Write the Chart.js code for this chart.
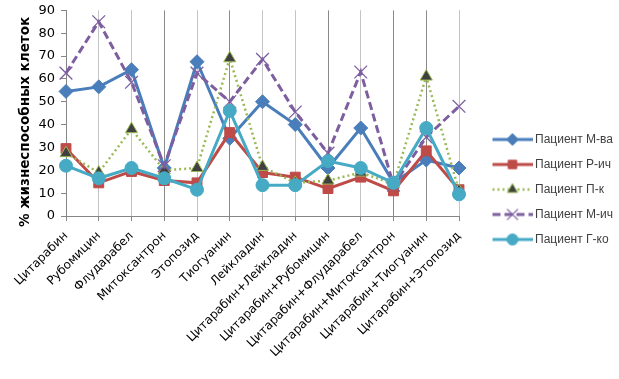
<!DOCTYPE html>
<html><head><meta charset="utf-8">
<script src="https://cdn.jsdelivr.net/npm/chart.js@4/dist/chart.umd.min.js"></script>
<style>html,body{margin:0;padding:0;background:#fff}#w{width:619px;height:379px}</style>
</head><body><div id="w"><canvas id="c"></canvas></div>
<script>
const categories = ["Цитарабин","Рубомицин","Флударабел","Митоксантрон","Этопозид","Тиогуанин","Лейкладин","Цитарабин+Лейкладин","Цитарабин+Рубомицин","Цитарабин+Флударабел","Цитарабин+Митоксантрон","Цитарабин+Тиогуанин","Цитарабин+Этопозид"];
const seriesNames = ["Пациент М-ва","Пациент Р-ич","Пациент П-к","Пациент М-ич","Пациент Г-ко"];
const pMva = [54.5,56.5,64,21,67.5,34,50,40,21,38.5,14.5,24.5,21];
const pRich = [29.5,14.5,19.5,15.5,14.5,36.5,19,17,12,17,11,28.5,11.5];
const pPk = [27.5,19,38,20,21,69,21.5,14.5,15.5,19,14,61,11];
const pMich = [62.5,85,58.5,22,62.5,50,68.5,45.5,27.5,63,13.5,34.5,48];
const pGko = [22,16.5,21,16.5,11.5,46,13.5,13.5,24,21,14.5,38.5,9.5];
const yTicks = [0,10,20,30,40,50,60,70,80,90];
const yTitle = '% жизнеспособных клеток';

const styles = [
 {color:'#4A7EBB', pt:'rectRot', r:7, fill:'#4A7EBB', bc:'#4A7EBB', dash:[], w:3, order:4, bw:1},
 {color:'#BE4B48', pt:'rect', r:7, fill:'#BE4B48', bc:'#BE4B48', dash:[], w:3, order:3, bw:1},
 {color:'#98B954', pt:'triangle', r:7, fill:'#404040', bc:'#98B954', dash:[2,3], w:2.5, order:2, bw:1},
 {color:'#7D5FA0', pt:'crossRot', r:9, fill:'#7D5FA0', bc:'#7D5FA0', dash:[8,4], w:3, order:1, bw:1.3},
 {color:'#46AAC5', pt:'circle', r:6.5, fill:'#46AAC5', bc:'#46AAC5', dash:[], w:3, order:0, bw:1}
];
const values = [pMva,pRich,pPk,pMich,pGko];
const darkGrid = [3,5,8,10,11];

function legendIcon(s){
  const cv = document.createElement('canvas'); cv.width=64; cv.height=16;
  const g = cv.getContext('2d');
  g.strokeStyle=s.color; g.lineWidth=s.w; g.setLineDash(s.dash);
  g.beginPath(); g.moveTo(24,8); g.lineTo(64,8); g.stroke(); g.setLineDash([]);
  g.fillStyle=s.fill; g.strokeStyle=s.bc; g.lineWidth=s.bw;
  Chart.helpers.drawPoint(g,{pointStyle:s.pt,radius:s.r*0.85,rotation:0,borderWidth:s.bw},44,8);
  return cv;
}

const datasets = values.map((v,i)=>{
  const s = styles[i];
  return {label:seriesNames[i], data:v, borderColor:s.color, backgroundColor:s.fill,
    borderWidth:s.w, borderDash:s.dash, pointStyle:s.pt, pointRadius:s.r,
    pointBackgroundColor:s.fill, pointBorderColor:s.bc, pointBorderWidth:s.bw,
    tension:0, fill:false, order:s.order};
});

const titlePlugin = {
  id:'ytitle',
  afterDraw(chart){
    const ctx = chart.ctx; ctx.save();
    ctx.translate(25, 122); ctx.rotate(-Math.PI/2);
    ctx.font = 'bold 13.5px "DejaVu Sans"'; ctx.fillStyle='#000';
    ctx.textAlign='center'; ctx.textBaseline='middle';
    ctx.fillText(yTitle, 0, 0); ctx.restore();
  }
};

new Chart(document.getElementById('c'),{
  type:'line',
  data:{labels:categories, datasets},
  plugins:[titlePlugin],
  options:{
    responsive:true, maintainAspectRatio:false, animation:false,
    layout:{padding:{left:0,right:0,top:0,bottom:0}},
    plugins:{
      tooltip:{enabled:false},
      legend:{position:'right', align:'center', maxWidth:160,
        labels:{usePointStyle:true, pointStyleWidth:57, padding:13, color:'#404040',
          font:{family:'Liberation Sans', size:12},
          sort:(a,b)=>a.datasetIndex-b.datasetIndex,
          generateLabels:(chart)=>chart.data.datasets.map((d,i)=>({
            text:d.label, datasetIndex:i, pointStyle:legendIcon(styles[i]),
            fillStyle:'#fff', strokeStyle:'#fff', lineWidth:0, hidden:false, fontColor:'#404040'}))
        }}
    },
    scales:{
      x:{offset:false,
        afterFit:(sc)=>{sc.height=163;},
        grid:{display:true,color:(c)=>darkGrid.includes(c.index)?'#8a8a8a':'#c4c4c4',lineWidth:1,drawTicks:true,tickLength:5,tickColor:'#868686'},
        border:{display:true,color:'#868686',width:1},
        ticks:{minRotation:45,maxRotation:45,autoSkip:false,color:'#000',padding:8,
          font:{family:'DejaVu Sans',size:12}}},
      y:{min:0,max:90,
        afterBuildTicks:(sc)=>{sc.ticks=yTicks.map(v=>({value:v}));},
        afterFit:(sc)=>{sc.width=66; sc.paddingTop=8;},
        grid:{display:true,drawOnChartArea:false,drawTicks:true,tickLength:5,tickColor:'#868686'},
        border:{display:true,color:'#868686',width:1},
        ticks:{color:'#000',padding:6,font:{family:'DejaVu Sans',size:13,lineHeight:1}}}
    }
  }
});
</script></body></html>
